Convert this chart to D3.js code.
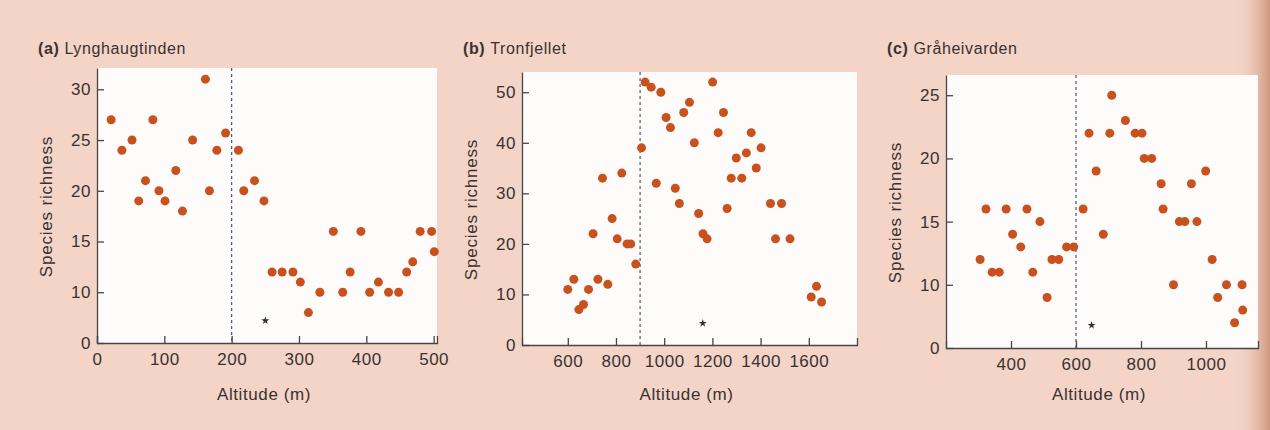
<!DOCTYPE html>
<html>
<head>
<meta charset="utf-8">
<script src="https://cdn.jsdelivr.net/npm/d3@7"></script>
<style>
  body { margin: 0; background: #f3d4c6; }
  svg text { font-family: "Liberation Sans", Arial, sans-serif; fill: #3a3232; }
</style>
</head>
<body>
<script>
// panel (a) Lynghaugtinden
var altA = [21, 37, 52, 62, 72, 83, 92, 101, 117, 127, 142, 161, 167, 178, 191, 210, 218, 234, 248,
  260, 275, 291, 302, 314, 331, 351, 365, 376, 392, 405, 418, 433, 448, 460, 469, 480, 497, 501];
var richA = [27, 24, 25, 19, 21, 27, 20, 19, 22, 18, 25, 31, 20, 24, 25.7, 24, 20, 21, 19,
  12, 12, 12, 11, 8, 10, 16, 10, 12, 16, 10, 11, 10, 10, 12, 13, 16, 16, 14];

// panel (b) Tronfjellet
var altB = [600, 625, 646, 665, 686, 705, 725, 744, 766, 784, 805, 824, 846, 861, 882, 906, 921, 946,
  986, 967, 1008, 1026, 1046, 1063, 1081, 1105, 1125, 1143, 1161, 1178, 1201, 1224, 1246, 1261,
  1278, 1299, 1322, 1341, 1361, 1382, 1402, 1441, 1462, 1487, 1522, 1610, 1632, 1653];
var richB = [11, 13, 7, 8, 11, 22, 13, 33, 12, 25, 21, 34, 20, 20, 16, 39, 52, 51,
  50, 32, 45, 43, 31, 28, 46, 48, 40, 26, 22, 21, 52, 42, 46, 27,
  33, 37, 33, 38, 42, 35, 39, 28, 21, 28, 21, 9.5, 11.6, 8.5];

// panel (c) Gråheivarden
var altC = [305, 323, 342, 364, 385, 405, 430, 449, 467, 489, 511, 526, 547, 571, 593,
  622, 640, 662, 684, 704, 710, 752, 782, 803, 810, 833, 862, 868, 900, 918, 935, 955, 972,
  999, 1019, 1036, 1063, 1088, 1111, 1113];
var richC = [12, 16, 11, 11, 16, 14, 13, 16, 11, 15, 9, 12, 12, 13, 13,
  16, 22, 19, 14, 22, 25, 23, 22, 22, 20, 20, 18, 16, 10, 15, 15, 18, 15,
  19, 12, 9, 10, 7, 10, 8];

// asterisk markers
var starAlt = [250, 1160, 648];
var starRich = [7.2, 4.3, 6.8];

// thresholds (dashed lines)
var thresholds = [200, 900, 600];

var titles = [["(a)", "Lynghaugtinden"], ["(b)", "Tronfjellet"], ["(c)", "Gråheivarden"]];
var xTicksA = [0, 100, 200, 300, 400, 500];
var xTicksB = [600, 800, 1000, 1200, 1400, 1600];
var xTicksC = [400, 600, 800, 1000];
// bottom tick of (a) and (c) is labelled 0 though it sits at 5 (broken axis)
var yTicksA = [5, 10, 15, 20, 25, 30];
var yTicksB = [0, 10, 20, 30, 40, 50];
var yTicksC = [5, 10, 15, 20, 25];

var svg = d3.select("body").append("svg")
  .attr("width", 1270)
  .attr("height", 430);

// page shading toward the right edge
var defs = svg.append("defs");
var grad = defs.append("linearGradient").attr("id", "edge");
grad.append("stop").attr("offset", "0%").attr("stop-color", "#f3d4c6").attr("stop-opacity", 0);
grad.append("stop").attr("offset", "100%").attr("stop-color", "#c98f74").attr("stop-opacity", 0.9);
svg.append("rect").attr("width", 1270).attr("height", 430).attr("fill", "#f3d4c6");
svg.append("rect").attr("x", 1235).attr("width", 35).attr("height", 430).attr("fill", "url(#edge)");

var panels = [
  {alt: altA, rich: richA, xd: [0, 505], yd: [5, 32.1], box: [97, 437, 68, 343], xt: xTicksA, yt: yTicksA, base: 5},
  {alt: altB, rich: richB, xd: [410, 1800], yd: [0, 54], box: [522, 857, 72, 345], xt: xTicksB, yt: yTicksB, base: 0},
  {alt: altC, rich: richC, xd: [200, 1160], yd: [5, 26.6], box: [946, 1258, 75, 348], xt: xTicksC, yt: yTicksC, base: 5}
];

panels.forEach(function(p, i) {
  var x = d3.scaleLinear().domain(p.xd).range([p.box[0], p.box[1]]);
  var y = d3.scaleLinear().domain(p.yd).range([p.box[3], p.box[2]]);
  var g = svg.append("g");

  g.append("rect")
    .attr("x", p.box[0]).attr("y", p.box[2])
    .attr("width", p.box[1] - p.box[0]).attr("height", p.box[3] - p.box[2])
    .attr("fill", "#fdfcfb");

  // axes, ticks pointing inward
  var xAxis = d3.axisBottom(x).tickValues(p.xt).tickSizeInner(-7).tickSizeOuter(-7).tickPadding(10)
    .tickFormat(d3.format("d"));
  var yAxis = d3.axisLeft(y).tickValues(p.yt).tickSizeInner(-7).tickSizeOuter(0).tickPadding(6)
    .tickFormat(function(d) { return d === p.base ? "0" : d; });

  var gx = g.append("g").attr("transform", "translate(0," + p.box[3] + ")").call(xAxis);
  var gy = g.append("g").attr("transform", "translate(" + p.box[0] + ",0)").call(yAxis);
  [gx, gy].forEach(function(a) {
    a.selectAll("path, line").attr("stroke", "#4a4446").attr("stroke-width", 1.3);
    a.selectAll("text").style("font-size", "17px").style("letter-spacing", "0.5px").attr("fill", "#3a3232");
  });

  // dashed threshold
  g.append("line")
    .attr("x1", x(thresholds[i])).attr("x2", x(thresholds[i]))
    .attr("y1", p.box[2]).attr("y2", p.box[3])
    .attr("stroke", "#4d5570").attr("stroke-width", 1.2)
    .attr("stroke-dasharray", "3,3");

  g.selectAll(".dot")
    .data(p.alt)
    .enter().append("circle")
    .attr("cx", function(d) { return x(d); })
    .attr("cy", function(d, j) { return y(p.rich[j]); })
    .attr("r", 4.5)
    .attr("fill", "#c9511d");

  g.append("path")
    .attr("d", d3.symbol().type(d3.symbolStar).size(20))
    .attr("transform", "translate(" + x(starAlt[i]) + "," + y(starRich[i]) + ")")
    .attr("fill", "#333");

  // title
  var t = g.append("text").attr("x", p.box[0] - 59).attr("y", 54)
    .style("font-size", "16px").style("letter-spacing", "0.6px");
  t.append("tspan").attr("font-weight", "bold").text(titles[i][0] + " ");
  t.append("tspan").text(titles[i][1]);

  g.append("text")
    .attr("transform", "translate(" + (p.box[0] - 45) + "," + ((p.box[2] + p.box[3]) / 2 + 1) + ") rotate(-90)")
    .attr("text-anchor", "middle")
    .style("font-size", "17px")
    .style("letter-spacing", "0.8px")
    .text("Species richness");

  g.append("text")
    .attr("x", (p.box[0] + p.box[1]) / 2 - 3)
    .attr("y", 400)
    .attr("text-anchor", "middle")
    .style("font-size", "17px")
    .style("letter-spacing", "0.6px")
    .text("Altitude (m)");
});
</script>
</body>
</html>
